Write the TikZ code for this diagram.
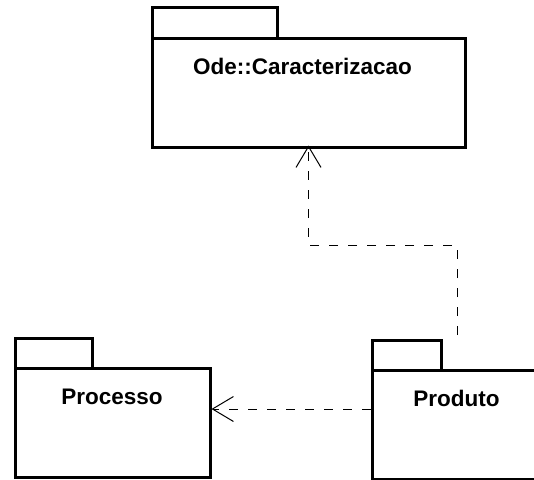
\documentclass[tikz,border=0pt]{standalone}
\usepackage{fontspec}
\setmainfont{Liberation Sans}
\usetikzlibrary{arrows.meta}
\begin{document}
\begin{tikzpicture}[x=1pt,y=-1pt,
  pkgbody/.style={draw,line width=3pt,minimum height=109pt,inner sep=0pt,outer sep=0pt,anchor=north west},
  pkgtab/.style={draw,line width=3pt,minimum height=30pt,inner sep=0pt,outer sep=0pt,anchor=south west},
  pkglabel/.style={font=\fontsize{22.5}{27}\selectfont\bfseries,anchor=base,inner sep=0pt},
  dep/.style={line width=1pt,dash pattern=on 9pt off 10pt,
    -{Straight Barb[length=21pt,width=25pt,line width=1pt]}}]
  \useasboundingbox (0,0) rectangle (534,479);
  \clip (0,0) rectangle (534,479);

  % packages: body with a tab on its upper left corner
  \node[pkgbody,minimum width=313pt] (ode) at (152,38) {};
  \node[pkgtab,minimum width=125pt,minimum height=31pt] (odetab) at (ode.north west) {};
  \node[pkglabel] (odelabel) at (302.5,74) {Ode::Caracterizacao};

  \node[pkgbody,minimum width=195pt] (processo) at (15,368) {};
  \node[pkgtab,minimum width=77pt] (processotab) at (processo.north west) {};
  \node[pkglabel] (processolabel) at (112,404) {Processo};

  \node[pkgbody,minimum width=170pt] (produto) at (372,370) {};
  \node[pkgtab,minimum width=69pt] (produtotab) at (produto.north west) {};
  \node[pkglabel] (produtolabel) at (456.5,406) {Produto};

  % dependencies
  \coordinate (bend) at (457,245);
  \coordinate (lane) at (300,409);
  \draw[dep] (produtotab.north -| bend) ++(0,-5) -- (bend) -| ([yshift=1.5pt]ode.south);
  \draw[dep] ([xshift=-1.5pt]produto.west |- lane) -- ([xshift=1.5pt]processo.east |- lane);
\end{tikzpicture}
\end{document}
